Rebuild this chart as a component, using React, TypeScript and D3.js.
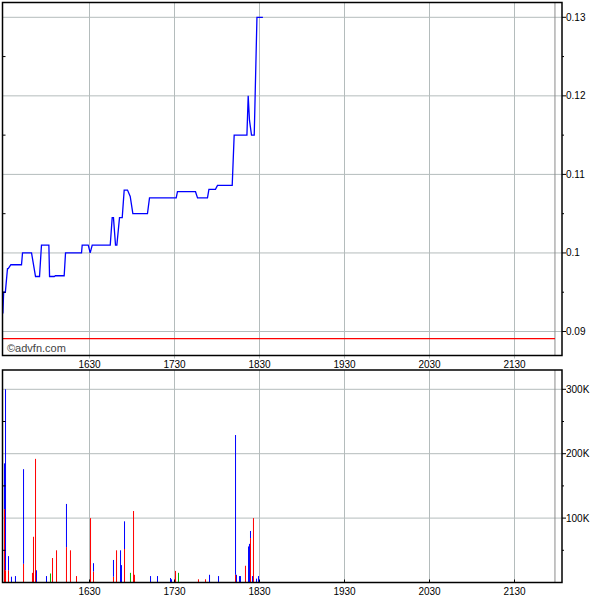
import React from "react";
import * as d3 from "d3";

// ---- data ----
const priceTimes = [1528.1, 1529, 1531, 1533.5, 1534.4, 1537.5, 1550, 1551.2, 1561.8, 1566.5, 1571.2, 1573.5, 1577.5, 1582.2, 1583, 1588.5, 1590, 1600.2, 1601.8, 1620.6, 1621.4, 1628.5, 1630.8, 1633.2, 1654.4, 1656.7, 1658.2, 1660.6, 1662.2, 1665.3, 1668.5, 1670.8, 1674.7, 1677.9, 1681, 1698.2, 1700.6, 1732, 1733.5, 1754.7, 1757.1, 1768.8, 1770.5, 1778.2, 1780.6, 1797.9, 1800.2, 1815.2, 1816.7, 1818.2, 1820.6, 1823.8, 1827, 1834];
const priceValues = [0.0923, 0.095, 0.095, 0.098, 0.098, 0.0985, 0.0985, 0.1, 0.1, 0.097, 0.097, 0.101, 0.101, 0.101, 0.097, 0.097, 0.0971, 0.0971, 0.1, 0.1, 0.101, 0.101, 0.1, 0.101, 0.101, 0.1045, 0.1045, 0.101, 0.101, 0.1045, 0.1045, 0.108, 0.108, 0.1072, 0.105, 0.105, 0.107, 0.107, 0.1078, 0.1078, 0.107, 0.107, 0.1081, 0.1081, 0.1086, 0.1086, 0.115, 0.115, 0.12, 0.1169, 0.115, 0.115, 0.13, 0.13];

const volTimes = [1530, 1531.2, 1534.7, 1538.2, 1542.9, 1552.4, 1562.9, 1564.1, 1566.5, 1567.6, 1579.4, 1584.1, 1586.5, 1591.2, 1602.9, 1607.6, 1614.7, 1631.2, 1634.7, 1658.2, 1661.8, 1666.5, 1667.6, 1671.2, 1678.2, 1681.8, 1682.9, 1701.8, 1710, 1725.3, 1726.5, 1731.2, 1734.7, 1758.2, 1766.5, 1771.2, 1781.8, 1801.8, 1802.9, 1806.5, 1807.6, 1813.5, 1817.1, 1818.2, 1819.4, 1821.8, 1822.9, 1826.5, 1828.8];
const volRed = [114, 19, 19, 0, 0, 29, 15, 71, 192, 0, 0, 0, 38, 50, 55, 50, 10, 100, 17, 9, 50, 0, 0, 52, 0, 111, 12, 0, 0, 0, 0, 18, 0, 5, 5, 0, 0, 12, 0, 0, 0, 26, 0, 0, 69, 0, 100, 0, 0];
const volBlue = [71, 281, 22, 9, 10, 147, 0, 0, 0, 19, 10, 0, 0, 0, 67, 0, 0, 0, 13, 26, 0, 50, 27, 43, 0, 0, 0, 10, 10, 7, 5, 0, 0, 0, 0, 12, 10, 217, 12, 10, 10, 0, 56, 60, 11, 10, 0, 6, 10];
const volGreen = [0, 0, 0, 0, 0, 0, 0, 0, 0, 0, 0, 14, 0, 0, 0, 0, 0, 0, 0, 0, 0, 0, 0, 0, 15, 0, 0, 0, 0, 0, 0, 0, 15, 0, 0, 0, 0, 0, 0, 0, 0, 0, 0, 0, 0, 0, 0, 0, 0];

const xTicks = [1630, 1730, 1830, 1930, 2030, 2130];
const priceTicks = [0.09, 0.1, 0.11, 0.12, 0.13];
const priceMinor = [0.095, 0.105, 0.115, 0.125];
const volTicks = [100000, 200000, 300000];
const volMinor = [50000, 150000, 250000];
const volTickLabels = ["100K", "200K", "300K"];
const prevClose = 0.0891;
const sessionEnd = 2177.6;

const FONT = "'Liberation Sans', Arial, sans-serif";
const GRID = "#b4bcbc";

export default function App() {
  const left = 2.5;
  const right = 562;
  const x = d3.scaleLinear().domain([1630, 2130]).range([89.5, 514.5]);
  const yP = d3.scaleLinear().domain([0.09, 0.13]).range([331.5, 17.3]);
  const yV = d3.scaleLinear().domain([0, 300000]).range([582.5, 389.3]);
  const pTop = 2.5, pBot = 355.5, vTop = 370, vBot = 582.5;

  const line = d3
    .line<number>()
    .x((_, i) => x(priceTimes[i]))
    .y((d) => yP(d));

  const bars: JSX.Element[] = [];
  volTimes.forEach((t, i) => {
    const bx = x(t) - 0.5;
    let base = 0;
    const segs: [number, string][] = [
      [volRed[i], "#ff0000"],
      [volBlue[i], "#0000ff"],
      [volGreen[i], "#00b000"],
    ];
    segs.forEach(([v, c], j) => {
      if (v <= 0) return;
      const y0 = yV(base * 1000);
      const y1 = yV((base + v) * 1000);
      bars.push(<rect key={`b${i}-${j}`} x={bx} y={y1} width={1} height={y0 - y1} fill={c} />);
      base += v;
    });
  });

  return (
    <svg width={600} height={600} style={{ position: "absolute", left: 0, top: 0, background: "#fff" }}>
      <rect x={0} y={0} width={600} height={600} fill="#fff" />
      {/* price panel grid */}
      {xTicks.map((t) => (
        <line key={`gx${t}`} x1={x(t)} x2={x(t)} y1={pTop} y2={pBot + 3} stroke={GRID} strokeWidth={1} />
      ))}
      {priceTicks.map((v) => (
        <line key={`gy${v}`} x1={left} x2={right} y1={yP(v)} y2={yP(v)} stroke={GRID} strokeWidth={1} />
      ))}
      <line x1={x(sessionEnd)} x2={x(sessionEnd)} y1={pTop} y2={pBot} stroke="#8a8a8a" strokeWidth={1} />
      <line x1={left} x2={x(sessionEnd)} y1={yP(prevClose)} y2={yP(prevClose)} stroke="#ff0000" strokeWidth={1.2} />
      <path d={line(priceValues) || ""} fill="none" stroke="#0000ff" strokeWidth={1.3} />
      {/* price ticks */}
      {priceMinor.map((v) => (
        <g key={`pm${v}`}>
          <line x1={left} x2={left + 3} y1={yP(v)} y2={yP(v)} stroke="#000" />
          <line x1={right} x2={right + 2} y1={yP(v)} y2={yP(v)} stroke="#000" />
        </g>
      ))}
      {priceTicks.map((v) => (
        <g key={`pt${v}`}>
          <line x1={right} x2={right + 4} y1={yP(v)} y2={yP(v)} stroke="#000" />
          <text x={566} y={yP(v)} dy="0.35em" fontFamily={FONT} fontSize={10} fill="#000">
            {d3.format("~g")(v)}
          </text>
        </g>
      ))}
      <rect x={left} y={pTop} width={right - left} height={pBot - pTop} fill="none" stroke="#000" strokeWidth={1.5} />
      <text x={7} y={352} fontFamily={FONT} fontSize={11} fill="#444">©advfn.com</text>
      {xTicks.map((t) => (
        <text key={`xl1${t}`} x={x(t)} y={364} dy="0.35em" textAnchor="middle" fontFamily={FONT} fontSize={10} fill="#000">
          {t}
        </text>
      ))}

      {/* volume panel */}
      {xTicks.map((t) => (
        <line key={`vgx${t}`} x1={x(t)} x2={x(t)} y1={vTop} y2={vBot} stroke={GRID} strokeWidth={1} />
      ))}
      {volTicks.map((v) => (
        <line key={`vgy${v}`} x1={left} x2={right} y1={yV(v)} y2={yV(v)} stroke={GRID} strokeWidth={1} />
      ))}
      <line x1={x(sessionEnd)} x2={x(sessionEnd)} y1={vTop} y2={vBot} stroke="#8a8a8a" strokeWidth={1} />
      {bars}
      {xTicks.map((t) => (
        <line key={`vt${t}`} x1={x(t)} x2={x(t)} y1={vBot - 3} y2={vBot} stroke="#000" strokeWidth={1} />
      ))}
      {volMinor.map((v) => (
        <g key={`vm${v}`}>
          <line x1={left} x2={left + 3} y1={yV(v)} y2={yV(v)} stroke="#000" />
          <line x1={right} x2={right + 2} y1={yV(v)} y2={yV(v)} stroke="#000" />
        </g>
      ))}
      {volTicks.map((v, i) => (
        <g key={`vtk${v}`}>
          <line x1={right} x2={right + 4} y1={yV(v)} y2={yV(v)} stroke="#000" />
          <text x={566} y={yV(v)} dy="0.35em" fontFamily={FONT} fontSize={10} fill="#000">
            {volTickLabels[i]}
          </text>
        </g>
      ))}
      <rect x={left} y={vTop} width={right - left} height={vBot - vTop} fill="none" stroke="#000" strokeWidth={1.5} />
      {xTicks.map((t) => (
        <text key={`xl2${t}`} x={x(t)} y={591.5} dy="0.35em" textAnchor="middle" fontFamily={FONT} fontSize={10} fill="#000">
          {t}
        </text>
      ))}
    </svg>
  );
}
